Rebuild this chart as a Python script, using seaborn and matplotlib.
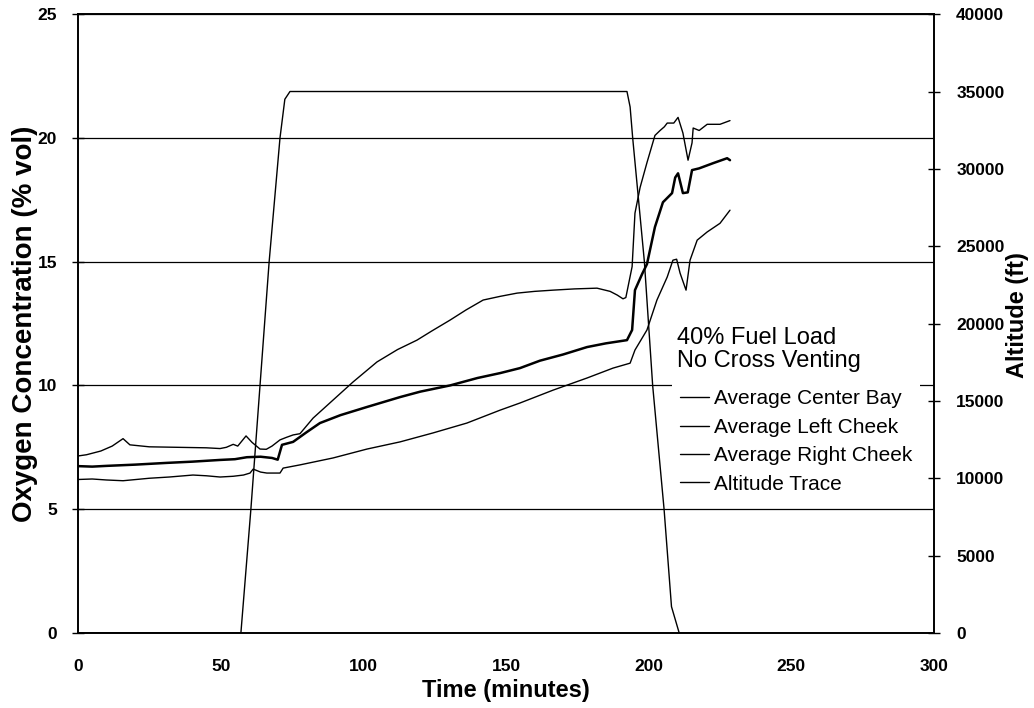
import numpy as np
import pandas as pd
import seaborn as sns
import matplotlib.pyplot as plt

# oxygen traces (time in minutes, O2 in % vol)
left_t = [0, 3, 8, 12, 15.8, 18.2, 25, 35, 45, 49.8, 52, 54.4, 56, 58.9, 61, 63.8, 66, 68,
          70.8, 73, 75.4, 77.8, 82.4, 89.4, 96.4, 104.8, 112, 118.8, 124, 130.4, 136, 142,
          148, 153.9, 160, 166.5, 174, 181.9, 186.5, 189, 191, 192, 194.2, 195.2, 197, 199.4,
          202.2, 204, 205.5, 206.5, 208.8, 210.3, 212, 213.8, 215.2, 215.6, 217.7, 220.5,
          225, 228.5]
left_o2 = [7.15, 7.2, 7.35, 7.55, 7.85, 7.6, 7.52, 7.5, 7.48, 7.45, 7.5, 7.62, 7.55, 7.96,
           7.7, 7.43, 7.42, 7.55, 7.8, 7.9, 8.0, 8.05, 8.68, 9.41, 10.14, 10.95, 11.45, 11.83,
           12.2, 12.64, 13.05, 13.45, 13.6, 13.73, 13.8, 13.85, 13.9, 13.93, 13.8, 13.65,
           13.5, 13.55, 14.8, 16.96, 18.0, 19.0, 20.1, 20.3, 20.45, 20.6, 20.6, 20.83, 20.2,
           19.1, 19.8, 20.4, 20.3, 20.55, 20.55, 20.7]

center_t = [0, 5, 10, 20, 31, 40, 49.8, 55, 59.2, 64, 68, 70, 71.5, 75.4, 80, 84.8, 92,
            101.3, 112.9, 120, 130.4, 140, 148, 154.9, 161.9, 170, 178.4, 185, 192.4, 194.2,
            195.2, 197.7, 199.4, 202.2, 205, 208.2, 209.3, 210.3, 212, 213.7, 215.2, 217.7,
            222.6, 227.5, 228.5]
center_o2 = [6.74, 6.72, 6.75, 6.8, 6.87, 6.92, 6.99, 7.02, 7.1, 7.12, 7.07, 7.0, 7.6, 7.72,
             8.1, 8.48, 8.8, 9.13, 9.53, 9.75, 10.0, 10.3, 10.5, 10.7, 11.0, 11.25, 11.55,
             11.7, 11.83, 12.24, 13.85, 14.5, 14.9, 16.4, 17.4, 17.77, 18.4, 18.57, 17.77,
             17.8, 18.7, 18.77, 18.98, 19.18, 19.1]

right_t = [0, 5, 10, 15.8, 25, 32, 40.3, 45, 49.8, 54.4, 58, 60.3, 61.4, 64, 66.2, 70.8,
           71.9, 77.8, 89.4, 101.3, 112.9, 124.4, 136.3, 147.9, 154.9, 166.5, 178.4, 187.5,
           193.5, 195.2, 199.4, 202.9, 206.5, 208.5, 209.8, 211, 213.1, 214.5, 217, 220.5,
           225, 228.5]
right_o2 = [6.2, 6.22, 6.18, 6.15, 6.25, 6.3, 6.38, 6.35, 6.3, 6.33, 6.38, 6.46, 6.62, 6.5,
            6.46, 6.46, 6.66, 6.79, 7.07, 7.43, 7.72, 8.08, 8.48, 9.0, 9.29, 9.81, 10.3,
            10.7, 10.9, 11.43, 12.24, 13.45, 14.38, 15.06, 15.1, 14.54, 13.85, 15.06, 15.87,
            16.2, 16.55, 17.08]

# altitude trace (ft)
alt_t = [0, 57.1, 60.6, 63.8, 67.0, 70.8, 72.5, 74.3, 150, 192.4, 193.5, 194.4, 198.5,
         201.4, 205.4, 208.0, 210.7, 228.5]
alt_ft = [0, 0, 8000, 16000, 24000, 32000, 34500, 35000, 35000, 35000, 34000, 32000,
          24000, 16000, 8000, 1700, 0, 0]

o2_ticks = [0, 5, 10, 15, 20, 25]
alt_ticks = list(range(0, 40001, 5000))
time_ticks = [0, 50, 100, 150, 200, 250, 300]

sns.set_style("white")
plt.rcParams['font.family'] = ['Liberation Sans', 'DejaVu Sans']
plt.rcParams['text.color'] = 'black'
plt.rcParams['axes.labelcolor'] = 'black'

fig, ax = plt.subplots(figsize=(10.34, 7.08), dpi=100)
fig.subplots_adjust(left=0.0754, right=0.9033, top=0.980, bottom=0.106)
ax2 = ax.twinx()

sns.lineplot(x=center_t, y=center_o2, ax=ax, color="black", lw=1.8, label="Average Center Bay")
sns.lineplot(x=left_t, y=left_o2, ax=ax, color="black", lw=1.0, label="Average Left Cheek")
sns.lineplot(x=right_t, y=right_o2, ax=ax, color="black", lw=1.0, label="Average Right Cheek")
sns.lineplot(x=alt_t, y=alt_ft, ax=ax2, color="black", lw=1.0, label="Altitude Trace")

ax.set_xlim(0, 300)
ax.set_ylim(0, 25)
ax2.set_ylim(0, 40000)
ax.set_xticks(time_ticks)
ax.set_yticks(o2_ticks)
ax2.set_yticks(alt_ticks)
ax.yaxis.grid(True, color="black", lw=0.9)
ax.set_axisbelow(True)

for a in (ax, ax2):
    for s in a.spines.values():
        s.set_color("black")
        s.set_linewidth(1.2)
    a.tick_params(direction="inout", length=8, width=1, colors="black", labelsize=12.5)
    for lab in a.get_xticklabels() + a.get_yticklabels():
        lab.set_fontweight("bold")
ax.tick_params(axis="x", pad=15)
ax.tick_params(axis="y", pad=11)
ax2.tick_params(axis="y", pad=12)

ax.set_xlabel("Time (minutes)", fontsize=17, fontweight="bold", labelpad=3)
ax.set_ylabel("Oxygen Concentration (% vol)", fontsize=20, fontweight="bold", labelpad=0)
ax2.set_ylabel("Altitude (ft)", fontsize=17, fontweight="bold", labelpad=1)
ax2.yaxis.label.set_y(0.514)

# legend heading as plain text, entries as a legend below it
ax2.text(0.6998, 0.4943, "40% Fuel Load\nNo Cross Venting", transform=ax2.transAxes,
         fontsize=17, linespacing=1.08, ha="left", va="top")

h1, l1 = ax.get_legend_handles_labels()
h2, l2 = ax2.get_legend_handles_labels()
ax.get_legend().remove()
ax2.get_legend().remove()
leg = ax2.legend(h1 + h2, l1 + l2, loc="upper left", bbox_to_anchor=(0.694, 0.407),
                 borderaxespad=0, frameon=True, fontsize=15, handlelength=1.35,
                 handletextpad=0.25, labelspacing=0.45, borderpad=0.4)
leg.get_frame().set_edgecolor("none")
leg.get_frame().set_facecolor("white")
leg.get_frame().set_alpha(1)
leg.get_frame().set_boxstyle("square", pad=0)
for line in leg.get_lines():
    line.set_linewidth(1.0)

fig.savefig("out.png", dpi=100)
